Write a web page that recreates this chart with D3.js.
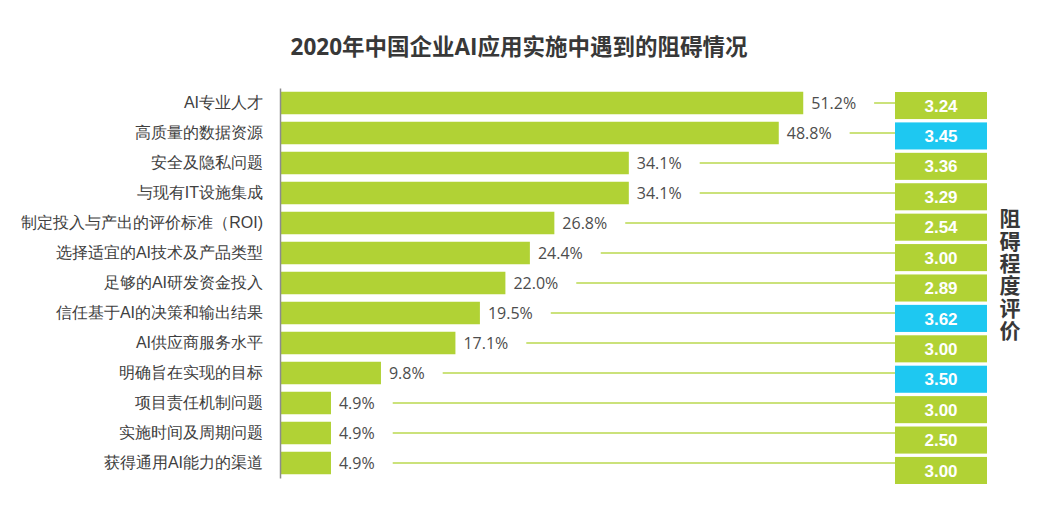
<!DOCTYPE html>
<html lang="zh">
<head>
  <meta charset="UTF-8">
  <title>2020年中国企业AI应用实施中遇到的阻碍情况</title>
  <script src="https://d3js.org/d3.v7.min.js"></script>
  <style>
    body { margin: 0; background: #fff; }
    svg { display: block; font-family: "Open Sans", "Noto Sans CJK SC", sans-serif; }
    .axis-y text { font-size: 16px; fill: #404040; }
    .axis-y path { stroke: #8c8c8c; stroke-width: 1.5px; }
  </style>
</head>
<body>
  <div id="chart"></div>

  <script>
    // data
    const categories = [
      "AI专业人才", "高质量的数据资源", "安全及隐私问题", "与现有IT设施集成",
      "制定投入与产出的评价标准（ROI)", "选择适宜的AI技术及产品类型", "足够的AI研发资金投入",
      "信任基于AI的决策和输出结果", "AI供应商服务水平", "明确旨在实现的目标",
      "项目责任机制问题", "实施时间及周期问题", "获得通用AI能力的渠道"
    ];
    const shares = [51.2, 48.8, 34.1, 34.1, 26.8, 24.4, 22.0, 19.5, 17.1, 9.8, 4.9, 4.9, 4.9];
    const scores = [3.24, 3.45, 3.36, 3.29, 2.54, 3.00, 2.89, 3.62, 3.00, 3.50, 3.00, 2.50, 3.00];
    // boxes highlighted in blue
    const highlighted = [1, 7, 9];
    const title = "2020年中国企业AI应用实施中遇到的阻碍情况";
    const sideTitle = "阻碍程度评价";

    const width = 1061, height = 525;
    const green = "#b1d235", blue = "#1ec8f1", lineGreen = "#bad94f";

    const svg = d3.select("#chart").append("svg")
      .attr("width", width)
      .attr("height", height);

    const x = d3.scaleLinear().domain([0, 60]).range([281, 893]);

    const y = d3.scaleBand()
      .domain(categories)
      .range([88, 478])
      .paddingInner(0.25)
      .paddingOuter(0.125);

    // the score boxes sit on a slightly taller band
    const yBox = d3.scaleBand()
      .domain(categories)
      .range([92, 484])
      .paddingInner(0.11)
      .paddingOuter(0);

    svg.append("text")
      .attr("x", 519)
      .attr("y", 55)
      .attr("text-anchor", "middle")
      .style("font-size", "22.5px")
      .style("font-weight", "700")
      .style("fill", "#383838")
      .text(title);

    // bars
    svg.selectAll(".bar")
      .data(shares)
      .enter().append("rect")
      .attr("class", "bar")
      .attr("x", x(0))
      .attr("y", (d, i) => y(categories[i]))
      .attr("width", d => x(d) - x(0))
      .attr("height", y.bandwidth())
      .attr("fill", green);

    // value labels
    const labels = svg.selectAll(".val")
      .data(shares)
      .enter().append("text")
      .attr("class", "val")
      .attr("x", d => x(d) + 8)
      .attr("y", (d, i) => y(categories[i]) + y.bandwidth() / 2)
      .attr("dy", "0.35em")
      .style("font-size", "16px")
      .style("fill", "#4d4d4d")
      .text(d => d.toFixed(1) + "%");

    // leader lines from the label to the score box
    labels.each(function(d, i) {
      const end = x(d) + 8 + this.getComputedTextLength();
      const cy = y(categories[i]) + y.bandwidth() / 2;
      svg.append("line")
        .attr("x1", end + 18)
        .attr("x2", x.range()[1] + 2)
        .attr("y1", cy)
        .attr("y2", cy)
        .attr("stroke", lineGreen)
        .attr("stroke-width", 1.5);
    });

    // score boxes
    const boxX = 895, boxW = 92;
    svg.selectAll(".box")
      .data(scores)
      .enter().append("rect")
      .attr("class", "box")
      .attr("x", boxX)
      .attr("y", (d, i) => yBox(categories[i]))
      .attr("width", boxW)
      .attr("height", yBox.bandwidth())
      .attr("fill", (d, i) => highlighted.includes(i) ? blue : green);

    svg.selectAll(".score")
      .data(scores)
      .enter().append("text")
      .attr("class", "score")
      .attr("x", boxX + boxW / 2)
      .attr("y", (d, i) => yBox(categories[i]) + yBox.bandwidth() / 2)
      .attr("dy", "0.36em")
      .attr("text-anchor", "middle")
      .style("font-family", "'Liberation Sans', Arial, sans-serif")
      .style("font-size", "17px")
      .style("font-weight", "700")
      .style("fill", "#fff")
      .text(d => d.toFixed(2));

    // category axis
    svg.append("g")
      .attr("class", "axis-y")
      .attr("transform", "translate(280,0)")
      .call(d3.axisLeft(y).tickSize(0).tickSizeOuter(0).tickPadding(17));

    // vertical side title
    svg.append("text")
      .attr("x", 1009)
      .attr("y", 208)
      .style("writing-mode", "vertical-rl")
      .style("letter-spacing", "1.3px")
      .style("font-size", "21px")
      .style("font-weight", "700")
      .style("fill", "#383838")
      .text(sideTitle);
  </script>
</body>
</html>
